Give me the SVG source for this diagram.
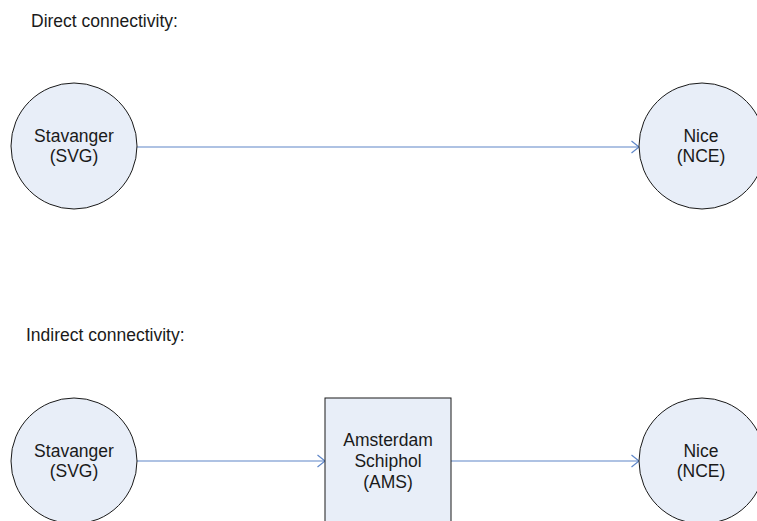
<svg xmlns="http://www.w3.org/2000/svg" width="757" height="521" viewBox="0 0 757 521">
<defs>
<style>
.t{font-family:"Liberation Sans",Arial,sans-serif;font-size:17.5px;fill:#1a1a1a}
.c{text-anchor:middle}
.n{fill:#E8EEF8;stroke:#1a1a1a;stroke-width:1}
.e{stroke:#5E86C8;stroke-width:1.2;fill:none}
</style>
<marker id="ah" viewBox="0 0 10 14" refX="9.5" refY="7" markerWidth="10" markerHeight="14" markerUnits="userSpaceOnUse" orient="auto">
<path d="M2,1 L9.5,7 L2,13" fill="none" stroke="#5E86C8" stroke-width="1.2"/>
</marker>
</defs>
<rect width="757" height="521" fill="#ffffff"/>
<text class="t" x="31" y="27">Direct connectivity:</text>
<text class="t" x="26" y="341">Indirect connectivity:</text>
<g id="connectors">
<line class="e" x1="137" y1="147" x2="639" y2="147" marker-end="url(#ah)"/>
<line class="e" x1="137" y1="461" x2="325" y2="461" marker-end="url(#ah)"/>
<line class="e" x1="451" y1="461" x2="639" y2="461" marker-end="url(#ah)"/>
</g>
<g id="svg-direct">
<circle class="n" cx="74" cy="146" r="63"/>
<text class="t c" x="74" y="142">Stavanger</text>
<text class="t c" x="74" y="162">(SVG)</text>
</g>
<g id="nce-direct">
<circle class="n" cx="702" cy="146" r="63"/>
<text class="t c" x="701" y="142">Nice</text>
<text class="t c" x="701" y="162">(NCE)</text>
</g>
<g id="svg-indirect">
<circle class="n" cx="74" cy="461" r="63"/>
<text class="t c" x="74" y="457">Stavanger</text>
<text class="t c" x="74" y="477">(SVG)</text>
</g>
<g id="ams">
<rect class="n" x="325" y="398" width="126" height="140"/>
<text class="t c" x="388" y="446">Amsterdam</text>
<text class="t c" x="388" y="467">Schiphol</text>
<text class="t c" x="388" y="488">(AMS)</text>
</g>
<g id="nce-indirect">
<circle class="n" cx="702" cy="461" r="63"/>
<text class="t c" x="701" y="457">Nice</text>
<text class="t c" x="701" y="477">(NCE)</text>
</g>
</svg>
